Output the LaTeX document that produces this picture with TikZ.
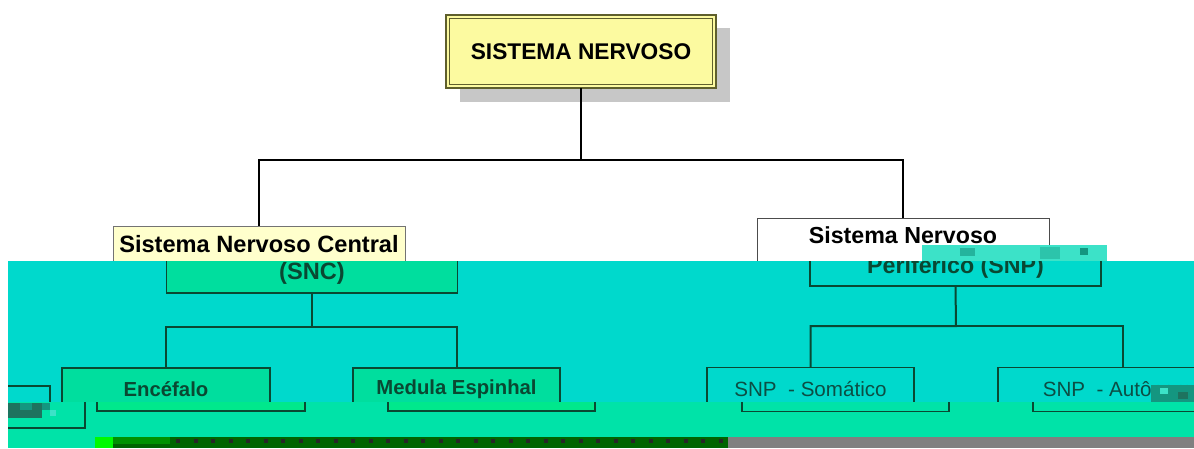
\documentclass[tikz,border=0pt]{standalone}
\usepackage{fontspec}
\setmainfont{Liberation Sans}
\definecolor{bandcyan}{RGB}{0,217,204}
\definecolor{bandgreen}{RGB}{0,227,168}
\definecolor{boxgreen}{RGB}{0,222,158}
\definecolor{boxgreenb}{RGB}{0,232,140}
\definecolor{inkgreen}{RGB}{10,72,50}
\definecolor{inkteal}{RGB}{12,78,68}
\definecolor{topyellow}{RGB}{252,250,160}
\definecolor{sncyellow}{RGB}{255,255,204}
\definecolor{oliveline}{RGB}{95,95,45}
\definecolor{glitchA}{RGB}{60,226,200}
\definecolor{glitchB}{RGB}{20,150,128}
\definecolor{glitchC}{RGB}{30,115,95}
\definecolor{darkstrip}{RGB}{0,100,0}
\definecolor{brightgreen}{RGB}{0,250,0}
\definecolor{stripgray}{RGB}{128,128,128}
\begin{document}
\begin{tikzpicture}[x=1pt,y=-1pt,
  every node/.style={inner sep=0pt,outer sep=0pt,align=center},
  topbox/.style={draw=oliveline,line width=1.2pt,fill=topyellow,
    font=\fontsize{22.7}{26}\selectfont\bfseries},
  sncfont/.style={font=\fontsize{23.6}{27}\selectfont\bfseries},
  snpfont/.style={font=\fontsize{23.2}{30}\selectfont\bfseries},
  sncbox/.style={draw=black!55,line width=0.9pt,fill=sncyellow,sncfont},
  snpbox/.style={draw=black!70,line width=0.9pt,fill=white,snpfont},
  gbox/.style={draw=inkgreen,line width=1.6pt,text=inkgreen},
  gboldtxt/.style={font=\fontsize{20.3}{24}\selectfont\bfseries},
  gregtxt/.style={font=\fontsize{20.6}{24}\selectfont,text=inkteal},
  conn/.style={draw=black,line width=1.3pt},
  gconn/.style={draw=inkgreen,line width=2pt}]
\useasboundingbox (0,0) rectangle (1194,448);
\fill[white] (0,0) rectangle (1194,448);

% ---------- top (white) part ----------
\fill[black!22] (460,28) rectangle (730,102);
\node[topbox,minimum width=270,minimum height=73] (top) at (581,51.5) {SISTEMA NERVOSO};
\draw[oliveline,line width=0.8pt] (449.5,18.5) rectangle (712.5,84.5);

\node[sncbox,minimum width=292,minimum height=67] (snc) at (259,259.5)
  {Sistema Nervoso Central\\\vphantom{(SNC)}};
\node[snpbox,minimum width=292,minimum height=68] (snp) at (903,252)
  {Sistema Nervoso\\\vphantom{Periférico (SNP)}};

\coordinate (j1) at (581,160);
\draw[conn] (top.south) -- (j1) -| (snc.north);
\draw[conn] (j1) -| (snp.north);

% glitch block above the band
\fill[glitchA] (922,245) rectangle (1107,261);
\fill[glitchB!60!glitchA] (960,248) rectangle (975,256);
\fill[glitchB!40!glitchA] (1040,247) rectangle (1060,259);
\fill[glitchB] (1080,248) rectangle (1088,255);

% ---------- cyan band ----------
\fill[bandcyan] (8,261) rectangle (1194,402);
\begin{scope}
\clip (8,261) rectangle (1194,402);
\node[gbox,fill=boxgreen,sncfont,minimum width=291,minimum height=67] (sncb) at (312,259.5)
  {\vphantom{Sistema Nervoso Central}\\(SNC)};
\node[gbox,snpfont,minimum width=291,minimum height=68] (snpb) at (955.5,252)
  {\vphantom{Sistema Nervoso}\\Periférico (SNP)};

\node[gbox,fill=boxgreen,gboldtxt,minimum width=208,minimum height=43] (enc) at (166,389.5) {Encéfalo};
\node[gbox,fill=boxgreen,gboldtxt,minimum width=207,minimum height=43] (med) at (456.5,389.5) {Medula Espinhal};
\node[gbox,gregtxt,minimum width=207,minimum height=43] (som) at (810.5,389) {SNP~~- Somático};
\node[gbox,gregtxt,minimum width=250,minimum height=43] (aut) at (1123,389) {SNP~~- Autônomo};

\coordinate (j2) at (312,327);
\draw[gconn] (sncb.south) -- (j2) -| (enc.north);
\draw[gconn] (j2) -| (med.north);
\coordinate (j3) at (956,326);
\draw[gconn] (snpb.south) -- (j3) -| (som.north);
\draw[gconn] (j3) -| (aut.north);

\draw[inkgreen,line width=1.4pt] (8,386) -| (50,403);
\fill[glitchB] (1151,385) rectangle (1194,402);
\fill[glitchA] (1160,388) rectangle (1168,394);
\fill[glitchC] (1178,392) rectangle (1188,399);
\end{scope}

% ---------- green band ----------
\fill[bandgreen] (8,402) rectangle (1194,437);
\fill[bandgreen] (8,437) rectangle (95,448);
\begin{scope}
\clip (8,402) rectangle (1194,437);
\node[gbox,fill=boxgreenb,minimum width=208,minimum height=43] (enc2) at (201,389.5) {};
\node[gbox,fill=boxgreenb,minimum width=207,minimum height=43] (med2) at (491.5,389.5) {};
\node[gbox,minimum width=207,minimum height=43] (som2) at (845.5,390) {};
\node[gbox,minimum width=250,minimum height=43] (aut2) at (1158,390) {};
\draw[inkgreen,line width=1.4pt] (8,428) -| (85,400);
\fill[glitchC] (8,403) rectangle (42,418);
\fill[glitchB] (20,403) rectangle (32,410);
\fill[glitchB] (42,403) rectangle (50,410);
\fill[glitchA] (50,410) rectangle (56,416);
\end{scope}

% ---------- bottom strip ----------
\fill[brightgreen] (95,437) rectangle (113,448);
\fill[darkstrip] (113,437) rectangle (728,448);
\fill[darkstrip!70!brightgreen] (113,437) rectangle (170,444);
\foreach \k in {0,...,31} {
  \fill[black!85] (176+\k*17.5,439) rectangle (180+\k*17.5,443);
}
\fill[stripgray] (728,437) rectangle (1194,448);
\end{tikzpicture}
\end{document}
